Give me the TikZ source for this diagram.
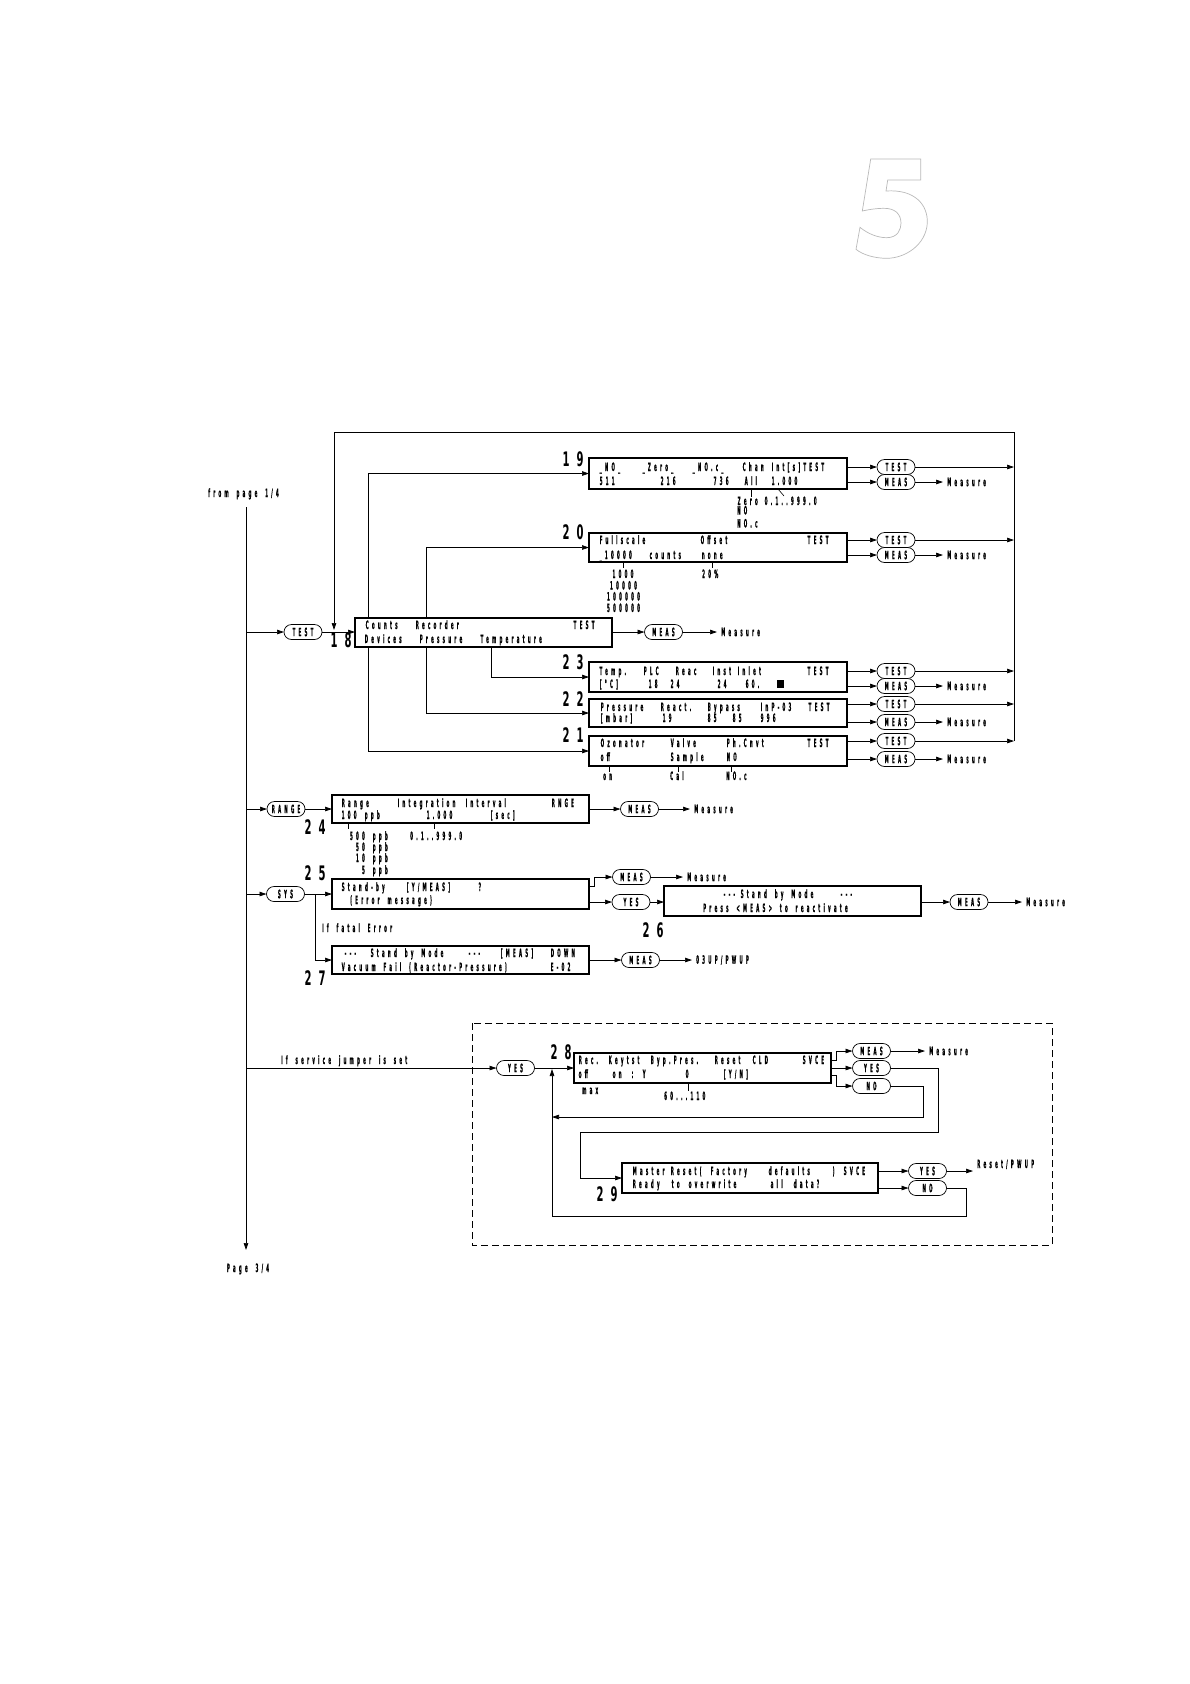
\documentclass[tikz,border=0pt]{standalone}
\usepackage{fontspec}
\usetikzlibrary{arrows.meta,shapes.misc}
\newfontfamily\lcd[FakeStretch=0.35,LetterSpace=28,WordSpace=1.7,FakeBold=0.7]{DejaVu Sans}
\newfontfamily\numf[FakeStretch=0.5,LetterSpace=35]{DejaVu Sans}
\newcommand\lcdf{\lcd\bfseries\fontsize{11.5pt}{13pt}\selectfont}
\newcommand\putw[2]{\rlap{\hspace*{#1pt}#2}}
\tikzset{
 conn/.style={line width=0.7pt},
 arr/.style={conn,-{Triangle[length=7pt,width=4.5pt]}},
 dbox/.style={draw,line width=2pt,fill=white,anchor=north west,outer sep=0pt,inner sep=0pt},
 oval/.style={draw,rounded rectangle,line width=0.7pt,minimum width=38pt,minimum height=15pt,inner sep=0pt,outer sep=0pt,fill=white,font=\lcdf},
 txt/.style={anchor=base west,inner sep=0pt,font=\lcdf},
 ctxt/.style={anchor=base,inner sep=0pt,font=\lcdf},
 meas/.style={anchor=west,inner xsep=4pt,inner ysep=0pt,font=\lcdf},
 num/.style={inner sep=0pt,font=\numf\bfseries\fontsize{20pt}{20pt}\selectfont},
 tick/.style={line width=0.6pt},
}
\begin{document}
\begin{tikzpicture}[x=1pt,y=-1pt]
\useasboundingbox (0,0) rectangle (1190,1684);
% big outlined 5
\draw[gray!55,line width=0.7pt] (870.7,159) -- (920.7,159) -- (920.7,180) -- (887.7,180) -- (886,191)
  .. controls (915,189) and (928,205) .. (927.3,223)
  .. controls (926,245) and (905,258.3) .. (886.7,258.3)
  .. controls (875,258.3) and (863,255) .. (856,249.3) -- (860,227.3)
  .. controls (868,234) and (878,237.7) .. (886.7,237.7)
  .. controls (898,237.7) and (901,229) .. (901,223.3)
  .. controls (901,214) and (895,208) .. (883.3,208.3)
  .. controls (874,208.5) and (867,210) .. (862.3,211) -- cycle;
% main vertical
\coordinate (ms) at (246,507);
\coordinate (mend) at (246,1250);
\node[ctxt] (fromp) at (243.5,497) {from page 1/4};
\node[ctxt] (p34) at (248,1272) {Page 3/4};
\draw[arr] (ms) -- (mend);
% helper coordinates
\coordinate (col) at (1014,432);
\coordinate (lt) at (334,432);
\coordinate (ld) at (334,630);
\coordinate (xa) at (368,0);
\coordinate (xb) at (426,0);
\coordinate (xc) at (491,0);
\coordinate (sb) at (315,894);
% boxes
\node[dbox,minimum width=257pt,minimum height=29pt] (b18) at (355,618) {};
\node[dbox,minimum width=258pt,minimum height=31pt] (b19) at (589,458) {};
\node[dbox,minimum width=258pt,minimum height=29pt] (b20) at (589,533) {};
\node[dbox,minimum width=258pt,minimum height=30pt] (b23) at (589,662) {};
\node[dbox,minimum width=258pt,minimum height=28pt] (b22) at (589,699) {};
\node[dbox,minimum width=258pt,minimum height=30pt] (b21) at (589,736) {};
\node[dbox,minimum width=257pt,minimum height=28pt] (b24) at (332,795) {};
\node[dbox,minimum width=257pt,minimum height=30pt] (b25) at (332,879) {};
\node[dbox,minimum width=257pt,minimum height=28pt] (b27) at (332,946) {};
\node[dbox,minimum width=257pt,minimum height=30pt] (b26) at (664,886) {};
\node[dbox,minimum width=257pt,minimum height=30pt] (b28) at (574,1053) {};
\node[dbox,minimum width=256pt,minimum height=30pt] (b29) at (622,1163) {};
% ovals
\node[oval] (t18) at (303,632) {TEST};
\node[oval] (m18) at (663.5,632) {MEAS};
\node[oval] (t19) at (896,467) {TEST};
\node[oval] (m19) at (896,482) {MEAS};
\node[oval] (t20) at (896,540) {TEST};
\node[oval] (m20) at (896,555) {MEAS};
\node[oval] (t23) at (896,671) {TEST};
\node[oval] (m23) at (896,686) {MEAS};
\node[oval] (t22) at (896,704) {TEST};
\node[oval] (m22) at (896,722) {MEAS};
\node[oval] (t21) at (896,741) {TEST};
\node[oval] (m21) at (896,759) {MEAS};
\node[oval] (rng) at (286,809) {RANGE};
\node[oval] (m24) at (639.5,809) {MEAS};
\node[oval] (sys) at (285.5,894) {SYS};
\node[oval] (m25) at (631.5,877) {MEAS};
\node[oval] (y25) at (631,902) {YES};
\node[oval] (m26) at (969,902) {MEAS};
\node[oval] (m27) at (640.5,960) {MEAS};
\node[oval] (y28a) at (515.5,1068) {YES};
\node[oval] (m28) at (871.5,1051) {MEAS};
\node[oval] (y28) at (871.5,1068) {YES};
\node[oval] (n28) at (871.5,1086) {NO};
\node[oval] (y29) at (927.5,1171) {YES};
\node[oval] (n29) at (927.5,1188) {NO};
% result labels
\node[meas] (me18) at (717,632) {Measure};
\node[meas] (me19) at (943,482) {Measure};
\node[meas] (me20) at (943,555) {Measure};
\node[meas] (me23) at (943,686) {Measure};
\node[meas] (me22) at (943,722) {Measure};
\node[meas] (me21) at (943,759) {Measure};
\node[meas] (me24) at (690,809) {Measure};
\node[meas] (me25) at (683,877) {Measure};
\node[meas] (me26) at (1022,902) {Measure};
\node[meas] (pw27) at (692,960) {03UP/PWUP};
\node[meas] (me28) at (925,1051) {Measure};
\node[txt] (rs29) at (977,1168) {Reset/PWUP};
\coordinate (r29) at (973,1171);
% connectors: TEST entry and loop
\draw[arr] (t18.west -| ms) -- (t18.west);
\draw[arr] (t18.east) -- (b18.west |- t18.east);
\draw[arr] (t21.east -| col) -- (col) -- (lt) -- (ld);
\foreach \n in {19,20,23,22,21} {
  \draw[arr] (b\n.east |- t\n.west) -- (t\n.west);
  \draw[arr] (t\n.east) -- (t\n.east -| col);
  \draw[arr] (b\n.east |- m\n.west) -- (m\n.west);
  \draw[arr] (m\n.east) -- (me\n.west);
}
\draw[arr] (b18.north -| xa) |- (b19.west);
\draw[arr] (b18.south -| xa) |- (b21.west);
\draw[arr] (b18.north -| xb) |- (b20.west);
\draw[arr] (b18.south -| xb) |- (b22.west);
\draw[arr] (b18.south -| xc) |- (b23.west);
\draw[arr] (b18.east |- m18.west) -- (m18.west);
\draw[arr] (m18.east) -- (me18.west);
% range
\draw[arr] (rng.west -| ms) -- (rng.west);
\draw[arr] (rng.east) -- (b24.west |- rng.east);
\draw[arr] (b24.east |- m24.west) -- (m24.west);
\draw[arr] (m24.east) -- (me24.west);
% sys
\draw[arr] (sys.west -| ms) -- (sys.west);
\draw[arr] (sys.east) -- (b25.west |- sys.east);
\draw[arr] (sb) |- (b27.west);
\draw[arr] ([yshift=8pt]b25.east) -- ++(5,0) |- (m25.west);
\draw[arr] (m25.east) -- (me25.west);
\draw[arr] ([yshift=-8pt]b25.east) -- (y25.west);
\draw[arr] (y25.east) -- (b26.west |- y25.east);
\draw[arr] (b26.east |- m26.west) -- (m26.west);
\draw[arr] (m26.east) -- (me26.west);
\draw[arr] (b27.east |- m27.west) -- (m27.west);
\draw[arr] (m27.east) -- (pw27.west);
\node[txt] (fatal) at (322,932) {If fatal Error};
% service
\draw[conn,dash pattern=on 7pt off 4pt] (472,1023) rectangle (1052,1245);
\draw[arr] (y28a.west -| ms) -- (y28a.west);
\node[txt] (svc) at (281,1064) {If service jumper is set};
\draw[arr] (y28a.east) -- (b28.west |- y28a.east);
\draw[arr] ([yshift=8pt]b28.east) -- ++(5,0) |- (m28.west);
\draw[arr] (b28.east |- y28.west) -- (y28.west);
\draw[arr] ([yshift=-7pt]b28.east) -- ++(5,0) |- (n28.west);
\draw[arr] (m28.east) -- (me28.west);
\coordinate (rn) at (923,1117);
\coordinate (rl) at (552,1117);
\coordinate (ry1) at (938,1132);
\coordinate (ry2) at (580,1132);
\coordinate (rb1) at (966,1216);
\coordinate (rb2) at (552,1216);
\coordinate (rb3) at (552,1069);
\draw[arr] (n28.east) -| (rn) -- (rl);
\draw[arr] (y28.east) -| (ry1) -- (ry2) |- (b29.west);
\draw[arr] (n29.east) -| (rb1) -- (rb2) -- (rb3);
\draw[arr] (b29.east |- y29.west) -- (y29.west);
\draw[arr] (b29.east |- n29.west) -- (n29.west);
\draw[arr] (y29.east) -- (r29);
% box texts
\node[txt] (l18a) at (365,629) {\putw{0}{Counts}\putw{50}{Recorder}\putw{208}{TEST}};
\node[txt] (l18b) at (364,643) {\putw{0}{Devices}\putw{55}{Pressure}\putw{116}{Temperature}};
\node[txt] (l19a) at (599,471) {\putw{0}{\_NO\_}\putw{43}{\_Zero\_}\putw{93}{\_NO.c\_}\putw{143}{Chan}\putw{172}{Int[s]TEST}};
\node[txt] (l19b) at (599,485) {\putw{0}{511}\putw{61}{216}\putw{114}{736}\putw{145}{All}\putw{172}{1.000}};
\node[txt] (l20a) at (599,544) {\putw{0}{Fullscale}\putw{101}{Offset}\putw{208}{TEST}};
\node[txt] (l20b) at (599,559) {\putw{0}{\_10000}\putw{50}{counts}\putw{102}{none}};
\node[txt] (l23a) at (599,675) {\putw{0}{Temp.}\putw{44}{PLC}\putw{76}{Reac}\putw{113}{Inst}\putw{138}{Inlet}\putw{208}{TEST}};
\node[txt] (l23b) at (599,688) {\putw{0}{[°C]}\putw{49}{18}\putw{71}{24}\putw{118}{24}\putw{146}{60.}};
\fill (777,680) rectangle (784,688);
\node[txt] (l22a) at (600,711) {\putw{0}{Pressure}\putw{60}{React.}\putw{107}{Bypass}\putw{160}{InP-03}\putw{208}{TEST}};
\node[txt] (l22b) at (600,722) {\putw{0}{[mbar]}\putw{62}{19}\putw{107}{85}\putw{132}{85}\putw{160}{996}};
\node[txt] (l21a) at (600,747) {\putw{0}{Ozonator}\putw{70}{Valve}\putw{126}{Ph.Cnvt}\putw{207}{TEST}};
\node[txt] (l21b) at (600,761) {\putw{0}{off}\putw{70}{Sample}\putw{126}{NO}};
\node[txt] (l24a) at (341,807) {\putw{0}{Range}\putw{56}{Integration}\putw{124}{Interval}\putw{210}{RNGE}};
\node[txt] (l24b) at (341,819) {\putw{0}{100}\putw{23}{ppb}\putw{85}{1.000}\putw{149}{[sec]}};
\node[txt] (l25a) at (341,891) {\putw{0}{Stand-by}\putw{65}{[Y/MEAS]}\putw{137}{?}};
\node[txt] (l25b) at (350,904) {(Error message)};
\node[txt] (l27a) at (344,957) {\putw{0}{---}\putw{26}{Stand by Mode}\putw{124}{---}\putw{156}{[MEAS]}\putw{206}{DOWN}};
\node[txt] (l27b) at (341,971) {\putw{0}{Vacuum Fail (Reactor-Pressure)}\putw{209}{E-02}};
\node[txt] (l26a) at (723,898) {\putw{0}{---}\putw{17}{Stand by Mode}\putw{117}{---}};
\node[txt] (l26b) at (703,912) {Press <MEAS> to reactivate};
\node[txt] (l28a) at (578,1064) {\putw{0}{Rec.}\putw{30}{Keytst}\putw{72}{Byp.Pres.}\putw{136}{Reset}\putw{174}{CLD}\putw{224}{SVCE}};
\node[txt] (l28b) at (578,1078) {\putw{0}{off}\putw{34}{on}\putw{53}{:}\putw{64}{Y}\putw{107}{0}\putw{145}{[Y/N]}};
\node[txt] (l29a) at (632,1175) {\putw{0}{Master}\putw{38}{Reset}\putw{67}{(}\putw{78}{Factory}\putw{136}{defaults}\putw{200}{)}\putw{211}{SVCE}};
\node[txt] (l29b) at (632,1188) {\putw{0}{Ready}\putw{39}{to}\putw{56}{overwrite}\putw{138}{all}\putw{161}{data?}};
% option lists under the boxes
\draw[tick] (751,489) -- (751,497);
\draw[tick] (778,489) -- (784,496);
\node[txt] (s19a) at (737,505) {\putw{0}{Zero}\putw{27}{0.1..999.0}};
\node[txt] (s19b) at (737,514.5) {NO};
\node[txt] (s19c) at (737,527.5) {NO.c};
\draw[tick] (623,562) -- (623,568);
\draw[tick] (712,562) -- (712,568);
\node[ctxt] (s20a) at (623,578) {1000};
\node[ctxt] (s20b) at (623.5,589.5) {10000};
\node[ctxt] (s20c) at (623.5,600.5) {100000};
\node[ctxt] (s20d) at (623.5,612) {500000};
\node[txt] (s20e) at (702,578) {20\%};
\draw[tick] (609,766) -- (609,772);
\draw[tick] (678,766) -- (678,772);
\draw[tick] (731,766) -- (731,772);
\node[txt] (s21a) at (603,780) {on};
\node[txt] (s21b) at (670,780) {Cal};
\node[txt] (s21c) at (726,780) {NO.c};
\draw[tick] (348,823) -- (348,829);
\draw[tick] (434,823) -- (434,829);
\node[txt,anchor=base east] (s24a) at (388,840) {500 ppb};
\node[txt,anchor=base east] (s24b) at (388,851) {50 ppb};
\node[txt,anchor=base east] (s24c) at (388,862) {10 ppb};
\node[txt,anchor=base east] (s24d) at (388,874) {5 ppb};
\node[txt] (s24e) at (410,840) {0.1..999.0};
\draw[tick] (688,1083) -- (688,1091);
\node[txt] (s28a) at (582,1094) {max};
\node[txt] (s28b) at (664,1100) {60...110};
% step numbers
\node[num] (n18) at (341,640) {18};
\node[num] (n19) at (573,459) {19};
\node[num] (n20) at (573,532) {20};
\node[num] (n23) at (573,662) {23};
\node[num] (n22) at (573,699) {22};
\node[num] (n21) at (573,735) {21};
\node[num] (n24) at (315,827) {24};
\node[num] (n25) at (315,873) {25};
\node[num] (n27) at (315,978) {27};
\node[num] (n26) at (653,930) {26};
\node[num] (n28) at (561,1052) {28};
\node[num] (n29) at (607,1194) {29};
\end{tikzpicture}
\end{document}
